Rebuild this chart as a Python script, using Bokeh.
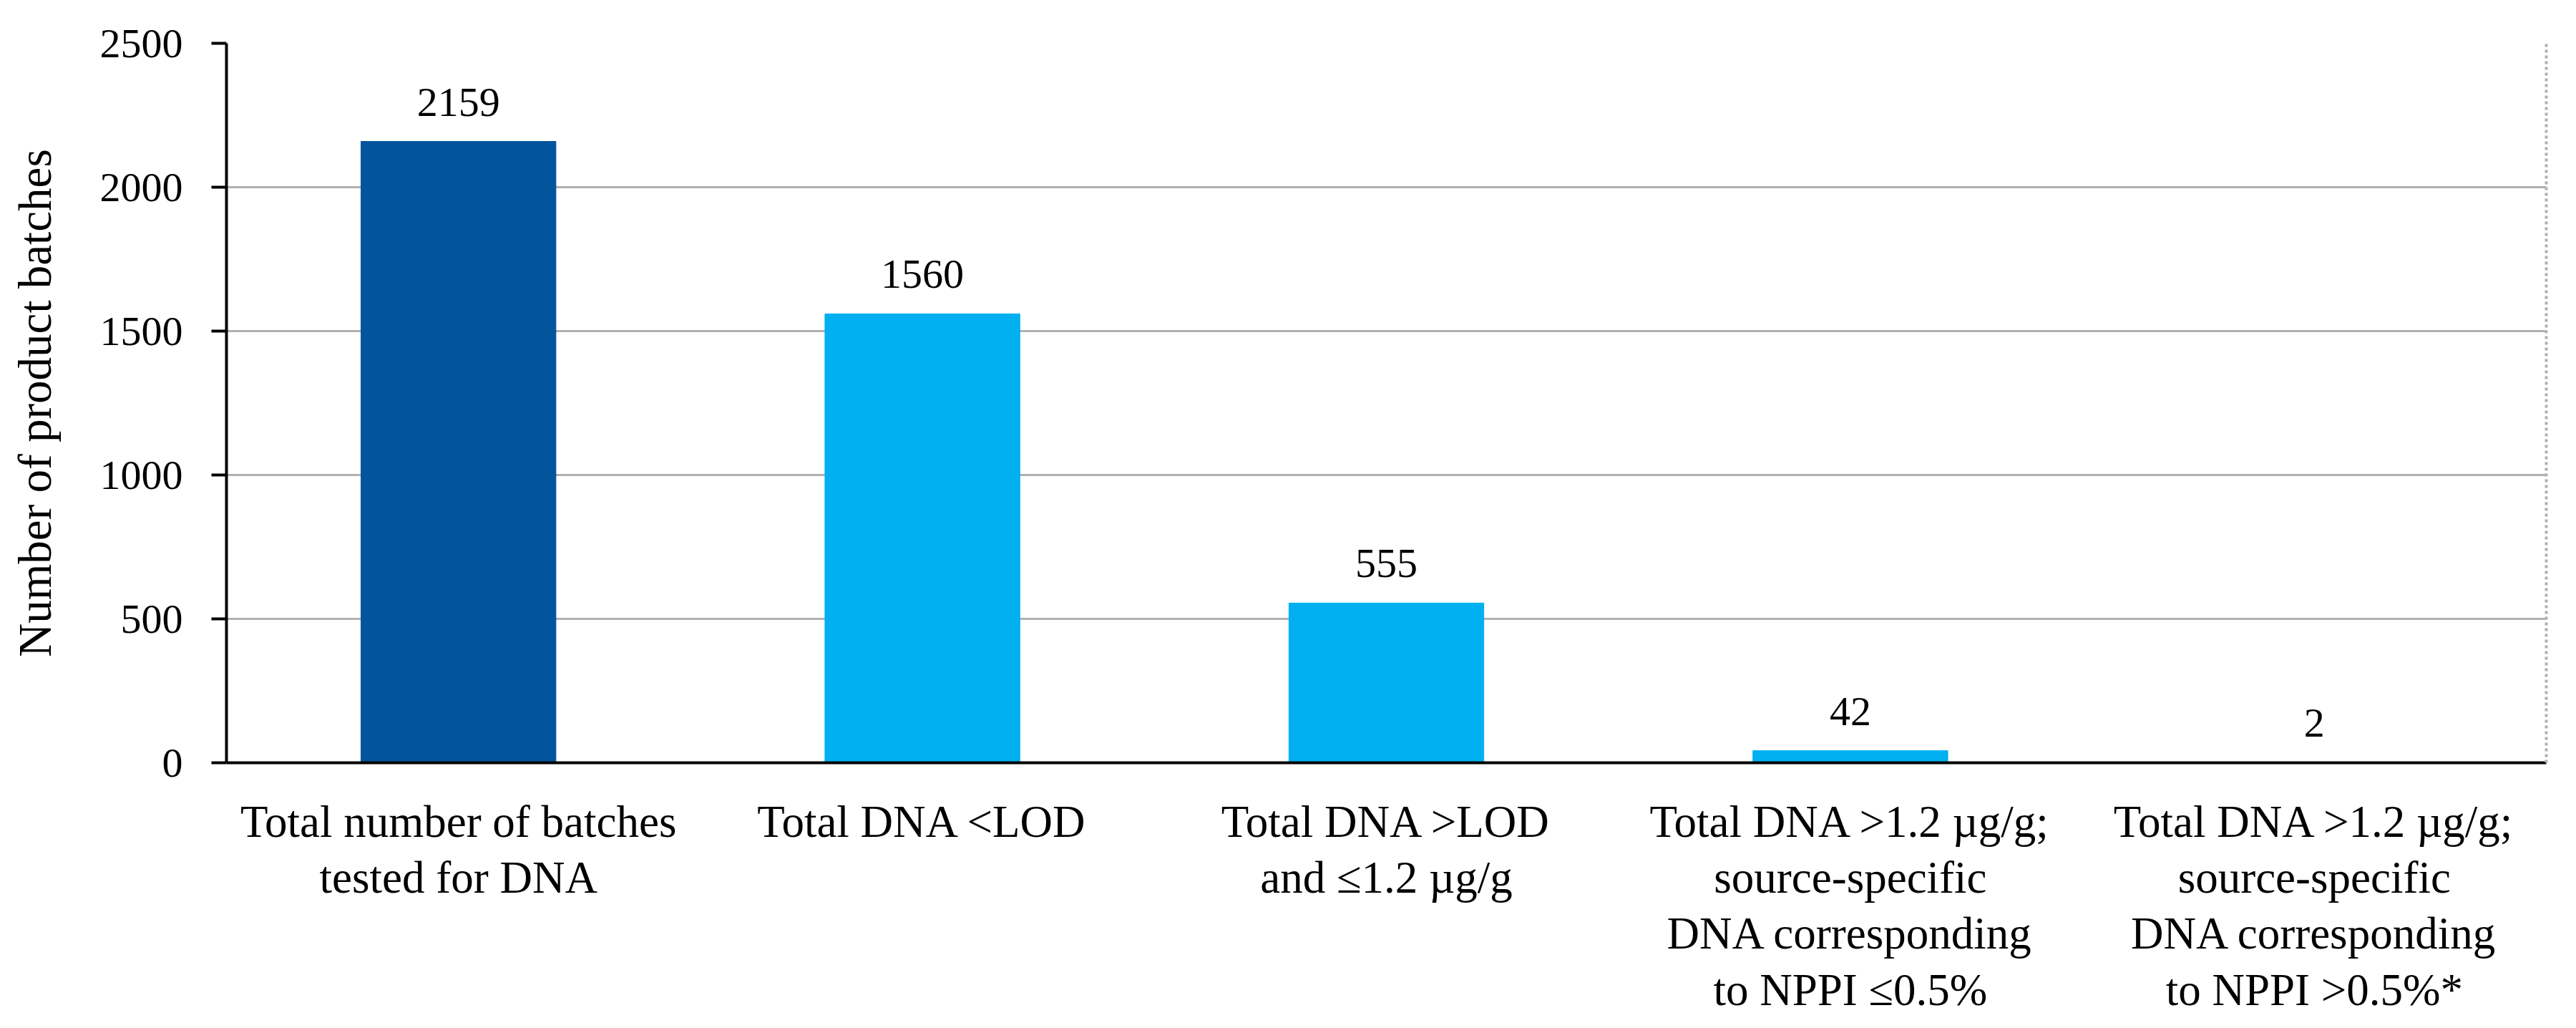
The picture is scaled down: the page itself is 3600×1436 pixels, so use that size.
from bokeh.plotting import figure
from bokeh.models import (ColumnDataSource, FactorRange, Range1d, LabelSet,
                          LinearAxis, FixedTicker, NumeralTickFormatter)
from bokeh.embed import file_html
from bokeh.resources import INLINE

# ---- data ----
categories = [
    "Total number of batches\ntested for DNA",
    "Total DNA <LOD",
    "Total DNA >LOD\nand \u22641.2 \u00b5g/g",
    "Total DNA >1.2 \u00b5g/g;\nsource-specific\nDNA corresponding\nto NPPI \u22640.5%",
    "Total DNA >1.2 \u00b5g/g;\nsource-specific\nDNA corresponding\nto NPPI >0.5%*",
]
values = [2159, 1560, 555, 42, 2]
bar_colors = ["#02559C", "#00B0F0", "#00B0F0", "#00B0F0", "#00B0F0"]
y_ticks = [0, 500, 1000, 1500, 2000, 2500]
y_label = "Number of product batches"

FONT = "Liberation Serif"

src = ColumnDataSource(dict(cat=categories, val=values, color=bar_colors,
                            txt=[str(v) for v in values]))

p = figure(width=3584, height=1420, output_backend="svg", toolbar_location=None,
           x_range=FactorRange(factors=categories, range_padding=0),
           y_range=Range1d(0, 2500),
           min_border_left=316, min_border_right=26, min_border_top=60,
           min_border_bottom=351)
p.outline_line_color = None
p.background_fill_color = "white"
p.border_fill_color = "white"

p.vbar(x="cat", top="val", width=0.42, color="color", source=src)

labels = LabelSet(x="cat", y="val", text="txt", source=src, y_offset=36,
                  text_align="center", text_baseline="alphabetic",
                  text_font=FONT, text_font_size="58px", text_color="black")
p.add_layout(labels)

# y axis
ya = p.yaxis[0]
ya.ticker = FixedTicker(ticks=y_ticks)
ya.formatter = NumeralTickFormatter(format="0")
ya.axis_line_color = "black"
ya.axis_line_width = 4
ya.major_tick_line_color = "black"
ya.major_tick_line_width = 4
ya.major_tick_out = 21
ya.major_tick_in = 0
ya.minor_tick_line_color = None
ya.major_label_text_font = FONT
ya.major_label_text_font_size = "58px"
ya.major_label_text_color = "black"
ya.major_label_standoff = 40
ya.axis_label = y_label
ya.axis_label_text_font = FONT
ya.axis_label_text_font_size = "65px"
ya.axis_label_text_font_style = "normal"
ya.axis_label_text_color = "black"
ya.axis_label_standoff = 52

# x axis
xa = p.xaxis[0]
xa.axis_line_color = "black"
xa.axis_line_width = 4
xa.major_tick_line_color = None
xa.major_tick_out = 0
xa.major_tick_in = 0
xa.minor_tick_line_color = None
xa.major_label_text_font = FONT
xa.major_label_text_font_size = "63px"
xa.major_label_text_color = "black"
xa.major_label_text_line_height = 1.12
xa.major_label_standoff = 47

# grid
p.xgrid.grid_line_color = None
p.ygrid.ticker = FixedTicker(ticks=y_ticks)
p.ygrid.grid_line_color = "#B0B0B0"
p.ygrid.grid_line_width = 3

# right dotted border
ra = LinearAxis(axis_line_color="#B0B0B0", axis_line_width=4, axis_line_dash="4 4",
                major_tick_line_color=None, minor_tick_line_color=None,
                major_label_text_font_size="0px", major_label_text_color=None)
p.add_layout(ra, "right")

open("out.html", "w").write(file_html(p, INLINE))
